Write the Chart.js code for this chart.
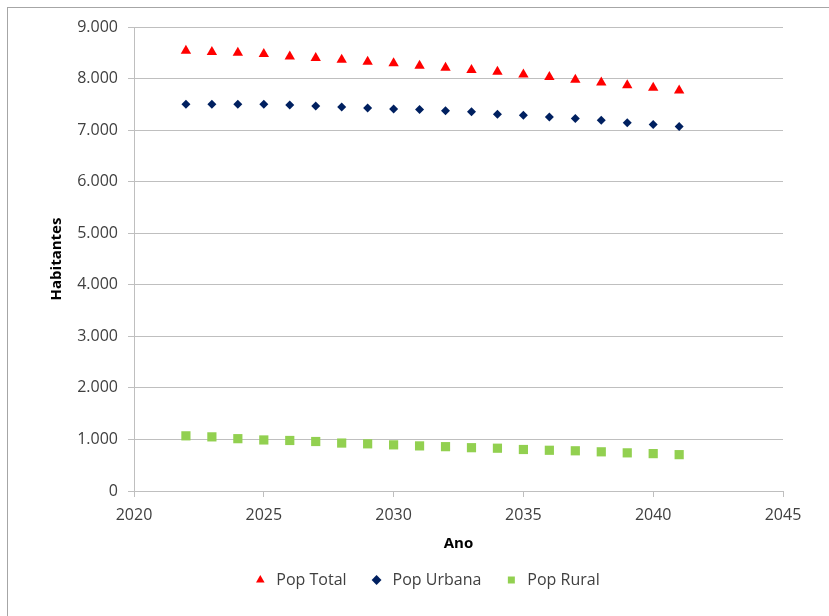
<!DOCTYPE html>
<html>
<head>
<meta charset="utf-8">
<script src="https://cdn.jsdelivr.net/npm/chart.js@4"></script>
<style>
  body { margin: 0; background: #fff; }
  #moldura { position: absolute; left: 7px; top: 7px; width: 900px; height: 700px; border: 1px solid #a6a6a6; }
  #grafico_canva { position: absolute; left: 0; top: 0; }
</style>
</head>
<body>
<div id="moldura"></div>
<canvas id="grafico_canva" width="829" height="616"></canvas>
<script>
const anos = [2022, 2023, 2024, 2025, 2026, 2027, 2028, 2029, 2030, 2031,
    2032, 2033, 2034, 2035, 2036, 2037, 2038, 2039, 2040, 2041];
const popTotal = [8540, 8515, 8500, 8475, 8430, 8400, 8365, 8325, 8295, 8250,
    8210, 8165, 8130, 8080, 8030, 7975, 7925, 7870, 7820, 7770];
const popUrbana = [7500, 7500, 7500, 7500, 7485, 7470, 7450, 7430, 7410, 7400,
    7375, 7355, 7310, 7290, 7255, 7225, 7190, 7145, 7110, 7070];
const popRural = [1070, 1050, 1015, 990, 980, 960, 930, 915, 895, 875,
    860, 840, 830, 805, 790, 780, 760, 740, 725, 705];
const ticksX = [2020, 2025, 2030, 2035, 2040, 2045];
const ticksY = [0, 1000, 2000, 3000, 4000, 5000, 6000, 7000, 8000, 9000];

function pontos(valores) {
    return anos.map(function (ano, i) { return { x: ano, y: valores[i] }; });
}

function milhar(v) {
    return String(v).replace(/\B(?=(\d{3})+(?!\d))/g, '.');
}

const fonte = "'Open Sans', sans-serif";
const cinza = '#bfbfbf';

new Chart(document.getElementById('grafico_canva'), {
    type: 'scatter',
    data: {
        datasets: [{
            label: 'Pop Total',
            data: pontos(popTotal),
            pointStyle: 'triangle',
            pointRadius: 6,
            backgroundColor: '#ff0000',
            borderWidth: 0
        }, {
            label: 'Pop Urbana',
            data: pontos(popUrbana),
            pointStyle: 'rectRot',
            pointRadius: 4.5,
            backgroundColor: '#002060',
            borderWidth: 0
        }, {
            label: 'Pop Rural',
            data: pontos(popRural),
            pointStyle: 'rect',
            pointRadius: 6.5,
            backgroundColor: '#92d050',
            borderWidth: 0
        }]
    },
    options: {
        responsive: false,
        animation: false,
        layout: { padding: { left: 69, right: 46, top: 27, bottom: 18 } },
        plugins: {
            tooltip: { enabled: false },
            legend: {
                position: 'bottom',
                labels: {
                    usePointStyle: true,
                    boxHeight: 7,
                    padding: 22,
                    color: '#404040',
                    font: { family: fonte, size: 16 }
                }
            }
        },
        scales: {
            x: {
                type: 'linear',
                min: 2020,
                max: 2045,
                afterBuildTicks: function (eixo) {
                    eixo.ticks = ticksX.map(function (v) { return { value: v }; });
                },
                afterFit: function (eixo) { eixo.height = 59; },
                grid: { drawOnChartArea: false, color: cinza, tickLength: 6 },
                border: { color: cinza },
                ticks: {
                    color: '#404040',
                    padding: 9,
                    maxRotation: 0,
                    font: { family: fonte, size: 16 },
                    callback: function (v) { return String(v); }
                },
                title: {
                    display: true,
                    text: 'Ano',
                    color: '#000',
                    padding: { bottom: -3 },
                    font: { family: fonte, size: 15, weight: 'bold' }
                }
            },
            y: {
                min: 0,
                max: 9000,
                afterBuildTicks: function (eixo) {
                    eixo.ticks = ticksY.map(function (v) { return { value: v }; });
                },
                afterFit: function (eixo) { eixo.width = 65; },
                grid: { color: cinza, tickLength: 6 },
                border: { color: cinza },
                ticks: {
                    color: '#404040',
                    padding: 10,
                    font: { family: fonte, size: 16 },
                    callback: function (v) { return milhar(v); }
                },
                title: {
                    display: true,
                    text: 'Habitantes',
                    color: '#000',
                    padding: { top: -21 },
                    font: { family: fonte, size: 15, weight: 'bold' }
                }
            }
        }
    }
});
</script>
</body>
</html>
